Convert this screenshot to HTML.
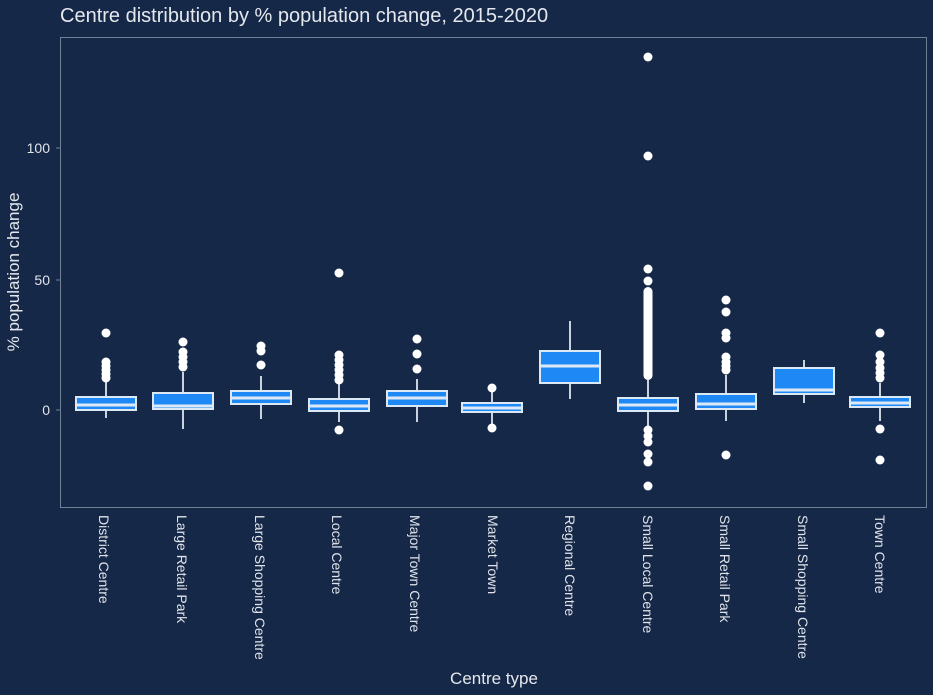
<!DOCTYPE html>
<html><head><meta charset="utf-8"><style>
html,body{margin:0;padding:0;background:#162848;}
svg{display:block;font-family:"Liberation Sans",sans-serif;}
</style></head><body>
<svg width="933" height="695" viewBox="0 0 933 695" xmlns="http://www.w3.org/2000/svg">
<rect width="933" height="695" fill="#162848"/>
<text x="60" y="22" font-size="20" fill="#e4e8ee">Centre distribution by % population change, 2015-2020</text>
<rect x="60.5" y="37.5" width="866" height="470" fill="none" stroke="#6f7f95" stroke-width="1"/>
<g fill="#e0e4ea" font-size="14" text-anchor="end">
<text x="50" y="153">100</text><text x="50" y="285">50</text><text x="50" y="415">0</text>
</g>
<g stroke="#6f7f95"><line x1="56" x2="60" y1="148" y2="148"/><line x1="56" x2="60" y1="280" y2="280"/><line x1="56" x2="60" y1="410" y2="410"/></g>
<text transform="translate(19,272) rotate(-90)" font-size="17" fill="#e4e8ee" text-anchor="middle">% population change</text>
<text x="494" y="684" font-size="17" fill="#e4e8ee" text-anchor="middle">Centre type</text>
<g fill="#e0e4ea" font-size="14">
<text transform="translate(99,515) rotate(90)">District Centre</text>
<text transform="translate(177,515) rotate(90)">Large Retail Park</text>
<text transform="translate(255,515) rotate(90)">Large Shopping Centre</text>
<text transform="translate(332,515) rotate(90)">Local Centre</text>
<text transform="translate(410,515) rotate(90)">Major Town Centre</text>
<text transform="translate(488,515) rotate(90)">Market Town</text>
<text transform="translate(565,515) rotate(90)">Regional Centre</text>
<text transform="translate(643,515) rotate(90)">Small Local Centre</text>
<text transform="translate(720,515) rotate(90)">Small Retail Park</text>
<text transform="translate(798,515) rotate(90)">Small Shopping Centre</text>
<text transform="translate(875,515) rotate(90)">Town Centre</text>
</g>
<g stroke="#c9d3e0" stroke-width="2">
<line x1="106" x2="106" y1="380" y2="418"/>
<line x1="183" x2="183" y1="372" y2="429"/>
<line x1="261" x2="261" y1="376" y2="419"/>
<line x1="339" x2="339" y1="383" y2="422"/>
<line x1="417" x2="417" y1="379" y2="422"/>
<line x1="492" x2="492" y1="390" y2="426"/>
<line x1="570" x2="570" y1="321" y2="399"/>
<line x1="648" x2="648" y1="380" y2="430"/>
<line x1="726" x2="726" y1="375" y2="421"/>
<line x1="804" x2="804" y1="360" y2="403"/>
<line x1="880" x2="880" y1="383" y2="421"/>
</g>
<g fill="#1e88f5" stroke="#dde8f5" stroke-width="2">
<rect x="76" y="397" width="60" height="13"/>
<rect x="153" y="393" width="60" height="16"/>
<rect x="231" y="391" width="60" height="13"/>
<rect x="309" y="399" width="60" height="12"/>
<rect x="387" y="391" width="60" height="15"/>
<rect x="462" y="403" width="60" height="9"/>
<rect x="540" y="351" width="60" height="32"/>
<rect x="618" y="398" width="60" height="13"/>
<rect x="696" y="394" width="60" height="15"/>
<rect x="774" y="368" width="60" height="26"/>
<rect x="850" y="397" width="60" height="10"/>
</g>
<g stroke="#dde8f5" stroke-width="3">
<line x1="76" x2="136" y1="405" y2="405"/>
<line x1="153" x2="213" y1="406" y2="406"/>
<line x1="231" x2="291" y1="398" y2="398"/>
<line x1="309" x2="369" y1="406" y2="406"/>
<line x1="387" x2="447" y1="398" y2="398"/>
<line x1="462" x2="522" y1="408" y2="408"/>
<line x1="540" x2="600" y1="366" y2="366"/>
<line x1="618" x2="678" y1="405" y2="405"/>
<line x1="696" x2="756" y1="404" y2="404"/>
<line x1="774" x2="834" y1="390" y2="390"/>
<line x1="850" x2="910" y1="403" y2="403"/>
</g>
<g fill="#ffffff">
<circle cx="106" cy="333" r="4.5"/><circle cx="106" cy="362" r="4.5"/><circle cx="106" cy="366" r="4.5"/><circle cx="106" cy="370" r="4.5"/><circle cx="106" cy="374" r="4.5"/><circle cx="106" cy="378" r="4.5"/>
<circle cx="183" cy="342" r="4.5"/><circle cx="183" cy="352" r="4.5"/><circle cx="183" cy="357" r="4.5"/><circle cx="183" cy="362" r="4.5"/><circle cx="183" cy="367" r="4.5"/>
<circle cx="261" cy="346" r="4.5"/><circle cx="261" cy="351" r="4.5"/><circle cx="261" cy="365" r="4.5"/>
<circle cx="339" cy="273" r="4.5"/><circle cx="339" cy="355" r="4.5"/><circle cx="339" cy="360" r="4.5"/><circle cx="339" cy="365" r="4.5"/><circle cx="339" cy="370" r="4.5"/><circle cx="339" cy="375" r="4.5"/><circle cx="339" cy="380" r="4.5"/><circle cx="339" cy="430" r="4.5"/>
<circle cx="417" cy="339" r="4.5"/><circle cx="417" cy="354" r="4.5"/><circle cx="417" cy="369" r="4.5"/>
<circle cx="492" cy="388" r="4.5"/><circle cx="492" cy="428" r="4.5"/>
<circle cx="648" cy="57" r="4.5"/><circle cx="648" cy="156" r="4.5"/><circle cx="648" cy="269" r="4.5"/>
<rect x="643.5" y="287" width="9" height="93" rx="4.5"/>
<circle cx="648" cy="281" r="4.5"/>
<circle cx="648" cy="430" r="4.5"/><circle cx="648" cy="436" r="4.5"/><circle cx="648" cy="442" r="4.5"/><circle cx="648" cy="454" r="4.5"/><circle cx="648" cy="462" r="4.5"/><circle cx="648" cy="486" r="4.5"/>
<circle cx="726" cy="300" r="4.5"/><circle cx="726" cy="312" r="4.5"/><circle cx="726" cy="333" r="4.5"/><circle cx="726" cy="338" r="4.5"/><circle cx="726" cy="357" r="4.5"/><circle cx="726" cy="362" r="4.5"/><circle cx="726" cy="366" r="4.5"/><circle cx="726" cy="370" r="4.5"/><circle cx="726" cy="455" r="4.5"/>
<circle cx="880" cy="333" r="4.5"/><circle cx="880" cy="355" r="4.5"/><circle cx="880" cy="362" r="4.5"/><circle cx="880" cy="368" r="4.5"/><circle cx="880" cy="373" r="4.5"/><circle cx="880" cy="378" r="4.5"/><circle cx="880" cy="429" r="4.5"/><circle cx="880" cy="460" r="4.5"/>
</g>
</svg>
</body></html>
